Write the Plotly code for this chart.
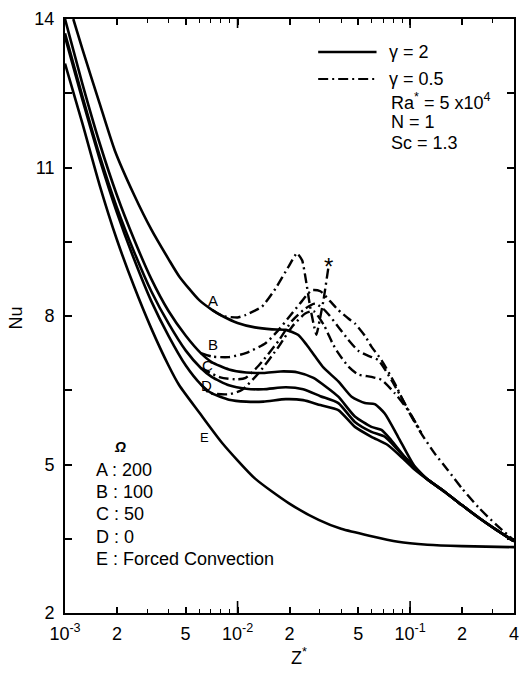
import math
import plotly.graph_objects as go

# ---------------- data ----------------
# gamma = 2 (solid lines)
z_A2 = [0.001117, 0.001259, 0.001585, 0.001941, 0.002512, 0.003162, 0.003981, 0.004592, 0.005998, 0.007145,
        0.008166, 0.01, 0.01259, 0.01585, 0.01905, 0.02239, 0.02512, 0.02818, 0.03162, 0.03837,
        0.04581, 0.0547, 0.06237, 0.07129, 0.08511, 0.1062, 0.1259, 0.1585, 0.1995, 0.2512, 0.3162, 0.4]
nu_A2 = [14.0, 13.4, 12.3, 11.35, 10.45, 9.75, 9.15, 8.8, 8.32, 8.12,
         8.0, 7.86, 7.77, 7.73, 7.72, 7.62, 7.42, 7.18, 6.95, 6.68,
         6.37, 6.24, 6.22, 6.03, 5.56, 4.96, 4.7, 4.45, 4.18, 3.92, 3.68, 3.45]

z_B2 = [0.001, 0.001259, 0.001585, 0.001995, 0.002512, 0.003162, 0.003981, 0.005012, 0.006124, 0.007079,
        0.008913, 0.01122, 0.01413, 0.01778, 0.02239, 0.02754, 0.03311, 0.03837, 0.04786, 0.0597,
        0.06823, 0.0778, 0.0929, 0.1062, 0.1259, 0.1585, 0.1995, 0.2512, 0.3162, 0.4]
nu_B2 = [14.0, 12.7, 11.5, 10.45, 9.55, 8.75, 8.1, 7.6, 7.25, 7.07,
         6.92, 6.86, 6.85, 6.88, 6.86, 6.75, 6.55, 6.37, 5.97, 5.76,
         5.70, 5.49, 5.16, 4.96, 4.7, 4.45, 4.18, 3.92, 3.68, 3.45]

z_C2 = [0.001, 0.001259, 0.001585, 0.001995, 0.002512, 0.003162, 0.003981, 0.005012, 0.006124, 0.007079,
        0.008913, 0.01122, 0.01413, 0.01905, 0.02399, 0.0302, 0.03837, 0.04786, 0.0597, 0.07129,
        0.08511, 0.1062, 0.1259, 0.1585, 0.1995, 0.2512, 0.3162, 0.4]
nu_C2 = [13.71, 12.45, 11.25, 10.2, 9.3, 8.5, 7.85, 7.3, 6.95, 6.77,
         6.6, 6.53, 6.52, 6.56, 6.52, 6.38, 6.24, 5.86, 5.66, 5.56,
         5.29, 4.93, 4.7, 4.45, 4.18, 3.92, 3.68, 3.45]

z_D2 = [0.001, 0.001259, 0.001585, 0.001995, 0.002512, 0.003162, 0.003981, 0.005012, 0.006124, 0.007079,
        0.008913, 0.01122, 0.01413, 0.01905, 0.02399, 0.0302, 0.03837, 0.04786, 0.0597, 0.07447,
        0.0929, 0.1062, 0.1259, 0.1585, 0.1995, 0.2512, 0.3162, 0.4]
nu_D2 = [13.64, 12.38, 11.18, 10.1, 9.15, 8.3, 7.6, 7.0, 6.62, 6.44,
         6.31, 6.27, 6.27, 6.32, 6.30, 6.2, 6.10, 5.76, 5.56, 5.39,
         5.09, 4.9, 4.7, 4.45, 4.18, 3.92, 3.68, 3.45]

# forced convection
z_E = [0.001, 0.001259, 0.001585, 0.001995, 0.002512, 0.003162, 0.003981, 0.004592, 0.005998, 0.008166,
       0.01259, 0.01977, 0.02951, 0.03981, 0.08511, 0.1259, 0.1995, 0.4]
nu_E = [13.1, 11.9, 10.65, 9.55, 8.6, 7.75, 7.0, 6.6, 6.05, 5.43,
        4.72, 4.22, 3.88, 3.70, 3.44, 3.38, 3.35, 3.33]

# gamma = 0.5 (dash-dot lines)
z_A05 = [0.007145, 0.008166, 0.01, 0.01114, 0.01387, 0.01656, 0.01977, 0.02208, 0.02371, 0.02483,
         0.0263, 0.02754, 0.02864, 0.02985, 0.03148, 0.03357]
nu_A05 = [8.12, 8.0, 7.97, 8.02, 8.19, 8.55, 9.0, 9.27, 9.12, 8.75,
          8.2, 7.85, 7.62, 7.9, 8.32, 8.97]

z_B05 = [0.006124, 0.007145, 0.008913, 0.01114, 0.01452, 0.0173, 0.02065, 0.0236, 0.02692, 0.0302,
         0.03436, 0.03837, 0.04385, 0.04786, 0.0547, 0.0597, 0.06823, 0.08147, 0.09705, 0.1159,
         0.1384, 0.1652, 0.1995, 0.2512, 0.3162, 0.4]
nu_B05 = [7.25, 7.18, 7.17, 7.25, 7.45, 7.72, 8.05, 8.3, 8.52, 8.5,
          8.3, 8.12, 7.95, 7.85, 7.6, 7.38, 7.11, 6.64, 6.10, 5.63,
          5.23, 4.89, 4.52, 4.12, 3.78, 3.47]

z_C05 = [0.006124, 0.007943, 0.01, 0.01114, 0.01327, 0.0173, 0.02065, 0.02466, 0.02818, 0.03236,
         0.03837, 0.04385, 0.05, 0.05689, 0.06531, 0.0778, 0.08913, 0.09705, 0.1159]
nu_C05 = [6.95, 6.76, 6.72, 6.75, 7.0, 7.5, 7.9, 8.15, 8.25, 8.1,
          7.78, 7.52, 7.3, 7.2, 7.11, 6.71, 6.35, 6.12, 5.65]

z_D05 = [0.006124, 0.006839, 0.008913, 0.01064, 0.01327, 0.0173, 0.02065, 0.02466, 0.02754, 0.03162,
         0.03548, 0.03837, 0.04385, 0.05, 0.0597, 0.06823, 0.08147, 0.09705, 0.1159]
nu_D05 = [6.62, 6.45, 6.42, 6.51, 6.85, 7.38, 7.78, 8.05, 8.1, 7.82,
          7.45, 7.25, 6.98, 6.82, 6.77, 6.71, 6.44, 6.10, 5.64]

x_tickvals = [0.001, 0.002, 0.005, 0.01, 0.02, 0.05, 0.1, 0.2, 0.4]
x_ticktext = ["10<sup>-3</sup>", "2", "5", "10<sup>-2</sup>", "2", "5", "10<sup>-1</sup>", "2", "4"]
x_minor = [0.003, 0.004, 0.006, 0.007, 0.008, 0.009, 0.03, 0.04, 0.06, 0.07, 0.08, 0.09, 0.3]
x_decades = [0.01, 0.1]
y_tickvals = [2, 5, 8, 11, 14]
y_minor = [3.5, 6.5, 9.5, 12.5]
x_range = (0.001, 0.4)

# ---------------- figure ----------------
W, H = 523, 674
L, R, T, B = 65, 4, 19, 61
pw, ph = W - L - R, H - T - B


def px(x):
    return (x - L) / pw


def py(y):
    return (H - B - y) / ph


FONT = "Liberation Sans, Arial, sans-serif"
DASHDOT = "10px,4px,2px,4px"

fig = go.Figure()
solid = dict(color="black", width=2.6)
dd = dict(color="black", width=2.4, dash=DASHDOT)
for zz, nn in [(z_A2, nu_A2), (z_B2, nu_B2), (z_C2, nu_C2), (z_D2, nu_D2), (z_E, nu_E)]:
    fig.add_trace(go.Scatter(x=zz, y=nn, mode="lines", line=dict(**solid, shape="spline", smoothing=0.6),
                             showlegend=False, hoverinfo="skip"))
for zz, nn in [(z_B05, nu_B05), (z_C05, nu_C05), (z_D05, nu_D05)]:
    fig.add_trace(go.Scatter(x=zz, y=nn, mode="lines", line=dict(**dd, shape="spline", smoothing=0.6),
                             showlegend=False, hoverinfo="skip"))
fig.add_trace(go.Scatter(x=z_A05, y=nu_A05, mode="lines", line=dict(**dd, shape="spline", smoothing=0.4),
                         showlegend=False, hoverinfo="skip"))

axis_common = dict(showline=True, linecolor="black", linewidth=2, mirror="allticks",
                   ticks="inside", tickwidth=1.5, tickcolor="black",
                   showgrid=False, zeroline=False,
                   tickfont=dict(family=FONT, size=18, color="black"))

lo, hi = math.log10(x_range[0]), math.log10(x_range[1])
fig.update_xaxes(type="log", range=[lo, hi], tickvals=x_tickvals, ticktext=x_ticktext, ticklen=6,
                 ticklabelstandoff=3,
                 minor=dict(tickvals=x_minor, ticks="inside", ticklen=4, tickwidth=1.2, tickcolor="black"),
                 **axis_common)
fig.update_yaxes(range=[2, 14], tickvals=y_tickvals, ticklen=7, ticklabelstandoff=5,
                 minor=dict(tickvals=y_minor, ticks="inside", ticklen=7, tickwidth=1.5, tickcolor="black"),
                 **axis_common)

ann = []


def text(x, y, s, size=18, xanchor="left", angle=0):
    ann.append(dict(x=px(x), y=py(y), xref="paper", yref="paper", text=s, showarrow=False,
                    xanchor=xanchor, yanchor="middle", textangle=angle,
                    font=dict(family=FONT, size=size, color="black")))


# legend-like text block
text(391, 52, "γ = 2")
text(391, 79, "γ = 0.5")
text(393, 101, "Ra<sup>*</sup> = 5 x10<sup>4</sup>")
text(393, 122, "N = 1")
text(393, 143, "Sc = 1.3")

# parameter list
text(113, 447, "<i><b>Ω</b></i>", size=14)
text(94, 470, "A : 200")
text(94, 492, "B : 100")
text(94, 514, "C : 50")
text(94, 537, "D : 0")
text(94, 559, "E : Forced Convection")

# curve labels
text(208, 301, "A", size=15)
text(208, 344, "B", size=15)
text(201, 365, "C", size=15)
text(200, 385, "D", size=15)
text(199, 437, "E", size=13)
text(331, 266, "*", size=24, xanchor="center")

# axis titles
text(15, 318, "Nu", size=18, xanchor="center", angle=-90)
text(302, 657, "Z<sup>*</sup>", size=18, xanchor="center")

shapes = [
    dict(type="line", xref="paper", yref="paper", x0=px(321), x1=px(380), y0=py(52), y1=py(52),
         line=dict(color="black", width=2.4)),
    dict(type="line", xref="paper", yref="paper", x0=px(321), x1=px(380), y0=py(79), y1=py(79),
         line=dict(color="black", width=2.2, dash=DASHDOT)),
]
# longer decade ticks (bottom and top)
for d in x_decades:
    fx = (math.log10(d) - lo) / (hi - lo)
    shapes.append(dict(type="line", xref="paper", yref="paper", x0=fx, x1=fx, y0=0, y1=12 / ph,
                       line=dict(color="black", width=1.6)))
    shapes.append(dict(type="line", xref="paper", yref="paper", x0=fx, x1=fx, y0=1, y1=1 - 9 / ph,
                       line=dict(color="black", width=1.6)))

fig.update_layout(width=W, height=H, autosize=False,
                  margin=dict(l=L, r=R, t=T, b=B),
                  plot_bgcolor="white", paper_bgcolor="white",
                  annotations=ann, shapes=shapes, showlegend=False)

fig.write_html("out.html")
